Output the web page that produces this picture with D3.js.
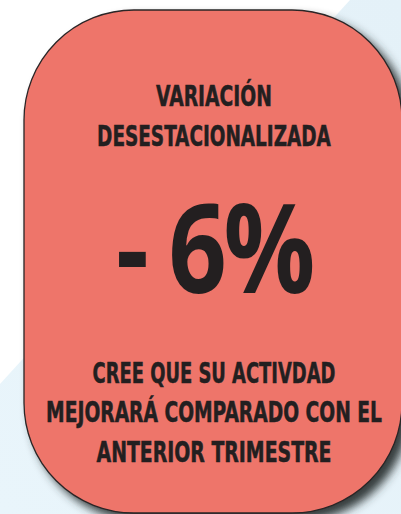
<!DOCTYPE html>
<html lang="es">
<head>
  <meta charset="UTF-8">
  <title>Variación desestacionalizada</title>
  <script src="https://cdn.jsdelivr.net/npm/d3@7"></script>
  <style>
    html, body { margin: 0; padding: 0; background: #fff; }
    svg { display: block; }
  </style>
</head>
<body>
  <svg width="401" height="514"></svg>

  <script>
    // Données
    const titleLines = ["VARIACIÓN", "DESESTACIONALIZADA"];
    const value = -6;
    const footLines = ["CREE QUE SU ACTIVDAD", "MEJORARÁ COMPARADO CON EL", "ANTERIOR TRIMESTRE"];

    const W = 401, H = 514;
    const svg = d3.select("svg").attr("width", W).attr("height", H);

    // fond bleu clair en diagonale
    const defs = svg.append("defs");
    const grad = defs.append("linearGradient").attr("id", "bg")
      .attr("x1", "0").attr("y1", "1").attr("x2", "1").attr("y2", "0");
    grad.append("stop").attr("offset", "0").attr("stop-color", "#e9f5fb");
    grad.append("stop").attr("offset", "1").attr("stop-color", "#e4f1f8");

    svg.append("path")
      .attr("d", "M0,384 L350,0 L401,0 L401,514 L0,514 Z")
      .attr("fill", "url(#bg)");

    const shadow = defs.append("filter").attr("id", "shadow")
      .attr("x", "-10%").attr("y", "-10%").attr("width", "130%").attr("height", "130%");
    shadow.append("feDropShadow")
      .attr("dx", 7).attr("dy", 7).attr("stdDeviation", 5)
      .attr("flood-color", "#2b3133").attr("flood-opacity", 0.95);

    // carte
    const card = { x: 24, y: 10, w: 378, h: 503, r: 110 };
    svg.append("rect")
      .attr("x", card.x).attr("y", card.y)
      .attr("width", card.w).attr("height", card.h)
      .attr("rx", card.r).attr("ry", card.r)
      .attr("fill", "#ee746a")
      .attr("stroke", "#2a2526").attr("stroke-width", 1.3)
      .attr("filter", "url(#shadow)");

    const cx = 214;
    const font = "'Liberation Sans Narrow', 'DejaVu Sans Condensed', 'Open Sans', sans-serif";

    // ajuste la largeur d'un texte
    function fit(sel, target) {
      sel.each(function () {
        const w = this.getComputedTextLength();
        if (w > 0) {
          const k = target / w;
          const x = +this.getAttribute("x");
          this.setAttribute("transform", `translate(${x},0) scale(${k},1) translate(${-x},0)`);
        }
      });
    }

    const yTitle = d3.scaleLinear().domain([0, 1]).range([106, 146]);
    const titleW = [116, 234];
    svg.selectAll("text.title").data(titleLines).join("text")
      .attr("class", "title")
      .attr("x", cx).attr("y", (d, i) => yTitle(i))
      .attr("text-anchor", "middle")
      .attr("font-family", font).attr("font-weight", "bold")
      .attr("font-size", 28).attr("fill", "#231f20")
      .attr("stroke", "#231f20").attr("stroke-width", 0.5)
      .text(d => d)
      .each(function (d, i) { fit(d3.select(this), titleW[i]); });

    svg.append("text")
      .attr("x", cx).attr("y", 293)
      .attr("text-anchor", "middle")
      .attr("font-family", "'Open Sans', 'Liberation Sans', sans-serif").attr("font-weight", "bold")
      .attr("font-size", 123).attr("fill", "#231f20")
      .attr("letter-spacing", -4)
      .text(`- ${Math.abs(value)}%`)
      .call(fit, 196);

    const yFoot = d3.scaleLinear().domain([0, 2]).range([383, 462]);
    const footW = [243, 336, 235];
    svg.selectAll("text.foot").data(footLines).join("text")
      .attr("class", "foot")
      .attr("x", cx).attr("y", (d, i) => yFoot(i))
      .attr("text-anchor", "middle")
      .attr("font-family", font).attr("font-weight", "bold")
      .attr("font-size", 28).attr("fill", "#231f20")
      .attr("stroke", "#231f20").attr("stroke-width", 0.5)
      .text(d => d)
      .each(function (d, i) { fit(d3.select(this), footW[i]); });
  </script>
</body>
</html>
